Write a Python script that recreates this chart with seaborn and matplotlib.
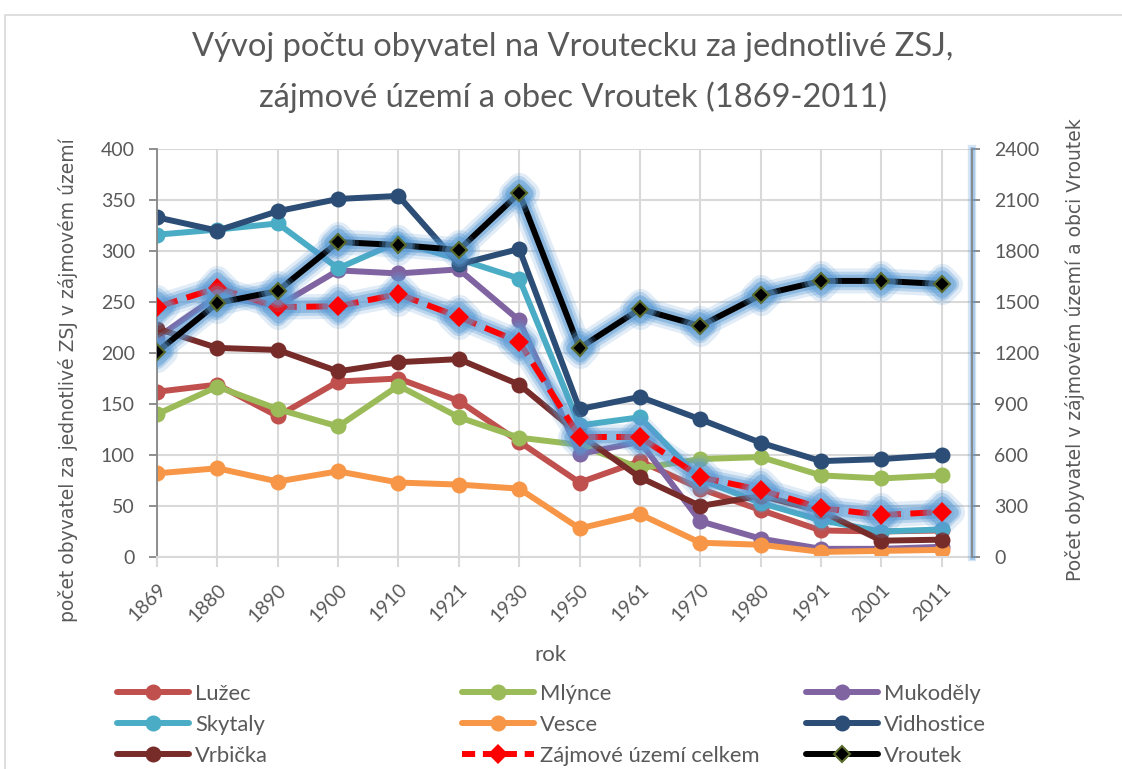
import matplotlib
matplotlib.use("Agg")
import matplotlib.pyplot as plt
import matplotlib.patheffects as pe
from matplotlib.lines import Line2D
from matplotlib.patches import Rectangle
import seaborn as sns

# categories
years = ["1869", "1880", "1890", "1900", "1910", "1921", "1930",
         "1950", "1961", "1970", "1980", "1991", "2001", "2011"]

# ZSJ series (left axis)
luzec = [162, 169, 138, 172, 175, 153, 113, 73, 94, 67, 46, 26, 25, 26]
mlynce = [140, 167, 145, 128, 168, 137, 117, 110, 87, 96, 98, 80, 77, 80]
mukodely = [215, 256, 246, 281, 278, 282, 232, 101, 113, 35, 18, 8, 8, 10]
skytaly = [316, 321, 327, 283, 309, 292, 273, 129, 137, 76, 53, 36, 25, 27]
vesce = [82, 87, 74, 84, 73, 71, 67, 28, 42, 14, 12, 5, 6, 7]
vidhostice = [333, 320, 339, 351, 354, 287, 302, 145, 157, 135, 112, 94, 96, 100]
vrbicka = [224, 205, 203, 182, 191, 194, 169, 120, 78, 50, 60, 45, 16, 17]

# right axis series
zajmove = [1470, 1583, 1470, 1475, 1547, 1412, 1265, 706, 706, 470, 394, 288, 247, 265]
vroutek = [1206, 1494, 1565, 1853, 1835, 1806, 2141, 1229, 1459, 1359, 1541, 1624, 1624, 1606]

left_ticks = [0, 50, 100, 150, 200, 250, 300, 350, 400]
right_ticks = [0, 300, 600, 900, 1200, 1500, 1800, 2100, 2400]

sns.set_theme(style="white")
plt.rcParams["font.family"] = ["Lato", "DejaVu Sans"]

TXT = "#595959"
GRID = "#D9D9D9"
AXC = "#868686"
GLOW = "#5B9BD5"


class Halo(pe.AbstractPathEffect):
    # solid (undashed) soft stroke drawn under the line
    def __init__(self, lw, color, alpha):
        super().__init__()
        self.lw = lw
        self.color = color
        self.alpha = alpha

    def draw_path(self, renderer, gc, tpath, affine, rgbFace=None):
        gc0 = renderer.new_gc()
        gc0.copy_properties(gc)
        gc0.set_dashes(0, None)
        gc0.set_linewidth(renderer.points_to_pixels(self.lw))
        gc0.set_foreground(self.color)
        gc0.set_alpha(self.alpha)
        gc0.set_joinstyle("round")
        gc0.set_capstyle("round")
        renderer.draw_path(gc0, tpath, affine, None)
        gc0.restore()


fig = plt.figure(figsize=(11.22, 7.69), dpi=100)
fig.patches.append(Rectangle((5 / 1122, -0.02), 1.1, 1 - 15 / 769 + 0.02,
                             transform=fig.transFigure, fill=False,
                             edgecolor="#D9D9D9", lw=1.2, zorder=0))

ax = fig.add_axes([157 / 1122, 1 - 557 / 769, 815 / 1122, 408 / 769])
ax2 = ax.twinx()

x = list(range(len(years)))

zsj = [
    ("Lužec", luzec, "#C0504D"),
    ("Mlýnce", mlynce, "#9BBB59"),
    ("Mukoděly", mukodely, "#8064A2"),
    ("Skytaly", skytaly, "#4BACC6"),
    ("Vesce", vesce, "#F79646"),
    ("Vidhostice", vidhostice, "#2C4D75"),
    ("Vrbička", vrbicka, "#772C2A"),
]

for name, vals, col in zsj:
    sns.lineplot(x=x, y=vals, ax=ax, color=col, linewidth=4.3, marker="o",
                 markersize=11.5, markeredgecolor=col, markeredgewidth=0,
                 legend=False)

# soft blue halo round the secondary-axis series (selected in the original)
glow = [Halo(13, GLOW, 0.18), Halo(9.5, GLOW, 0.3), Halo(6.5, GLOW, 0.45),
        pe.Normal()]

sns.lineplot(x=x, y=zajmove, ax=ax2, color="#FF0000", linewidth=4.3,
             linestyle=(0, (3.6, 1.6)), marker="D", markersize=10,
             markeredgecolor="#FF0000", markeredgewidth=0, legend=False)
sns.lineplot(x=x, y=vroutek, ax=ax2, color="black", linewidth=4.3,
             marker="D", markersize=8, markerfacecolor="black",
             markeredgecolor="#5A6B2C", markeredgewidth=1.5, legend=False)
for ln in ax2.get_lines():
    ln.set_path_effects(glow)

ax.set_xlim(0, 13.5)
ax.set_ylim(0, 400)
ax2.set_ylim(0, 2400)
ax.set_yticks(left_ticks)
ax.set_yticklabels([str(t) for t in left_ticks])
ax2.set_yticks(right_ticks)
ax2.set_yticklabels([str(t) for t in right_ticks])
ax.set_xticks(x)
ax.set_xticklabels(years, rotation=45, ha="right", rotation_mode="anchor")

ax.grid(True, color=GRID, lw=1.5)
ax.set_axisbelow(True)
ax2.grid(False)

for s in ["top", "right"]:
    ax.spines[s].set_visible(False)
ax.spines["left"].set_color(AXC)
ax.spines["left"].set_linewidth(1.3)
ax.spines["bottom"].set_color(GRID)
ax.spines["bottom"].set_linewidth(1.5)
for s in ["top", "left", "bottom"]:
    ax2.spines[s].set_visible(False)
ax2.spines["right"].set_color(AXC)
ax2.spines["right"].set_linewidth(1.3)
ax2.spines["right"].set_path_effects([
    pe.Stroke(linewidth=6, foreground=GLOW, alpha=0.25),
    pe.Stroke(linewidth=3.5, foreground=GLOW, alpha=0.4), pe.Normal()])

ax.tick_params(axis="y", left=True, length=6, width=1.3, color=AXC,
               labelsize=14, labelcolor=TXT, pad=10)
ax.tick_params(axis="x", bottom=True, length=7, width=1.5, color=GRID,
               labelsize=14, labelcolor=TXT, pad=10)
ax2.tick_params(axis="y", right=True, length=6, width=1.3, color=AXC,
                labelsize=14, labelcolor=TXT, pad=10)
ax.set_xlabel("")
ax.set_ylabel("")
ax2.set_ylabel("")

fig.text(573 / 1122, 1 - 47 / 769, "Vývoj počtu obyvatel na Vroutecku za jednotlivé ZSJ,",
         ha="center", va="center", fontsize=23.5, color=TXT)
fig.text(573 / 1122, 1 - 97 / 769, "zájmové území a obec Vroutek (1869-2011)",
         ha="center", va="center", fontsize=23.5, color=TXT)
fig.text(68 / 1122, 1 - 380 / 769, "počet obyvatel za jednotlivé ZSJ v zájmovém území",
         rotation=90, ha="center", va="center", fontsize=13.5, color=TXT,
         family=["DejaVu Sans"])
fig.text(1075 / 1122, 1 - 350 / 769, "Počet obyvatel v zájmovém území a obci Vroutek",
         rotation=90, ha="center", va="center", fontsize=13.5, color=TXT,
         family=["DejaVu Sans"])
fig.text(550 / 1122, 1 - 655 / 769, "rok", ha="center", va="center",
         fontsize=16, color=TXT)

# legend, three columns placed like the original
def handle(col, marker="o", ms=11.5, ls="-", mfc=None, mec=None, mew=0):
    return Line2D([], [], color=col, lw=4.3, ls=ls, marker=marker, markersize=ms,
                  markerfacecolor=mfc or col, markeredgecolor=mec or col,
                  markeredgewidth=mew, solid_capstyle="round")

legend_cols = [
    ([handle("#C0504D"), handle("#4BACC6"), handle("#772C2A")],
     ["Lužec", "Skytaly", "Vrbička"], 117),
    ([handle("#9BBB59"), handle("#F79646"),
      handle("#FF0000", marker="D", ms=10, ls=(0, (2.2, 1.3)))],
     ["Mlýnce", "Vesce", "Zájmové území celkem"], 462),
    ([handle("#8064A2"), handle("#2C4D75"),
      handle("black", marker="D", ms=8, mec="#5A6B2C", mew=1.5)],
     ["Mukoděly", "Vidhostice", "Vroutek"], 806),
]
for hs, labels, xpx in legend_cols:
    fig.legend(hs, labels, loc="upper left",
               bbox_to_anchor=(xpx / 1122, 1 - 684 / 769),
               frameon=False, fontsize=15.8, labelcolor=TXT, handlelength=3.3,
               handletextpad=0.25, borderpad=0, borderaxespad=0,
               labelspacing=0.5, numpoints=1)

fig.savefig("out.png", dpi=100)
